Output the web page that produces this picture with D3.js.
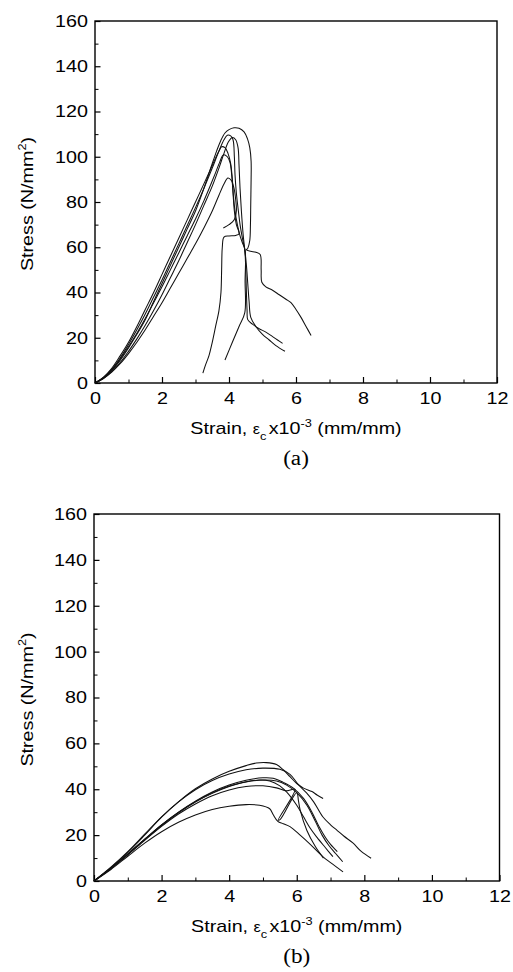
<!DOCTYPE html>
<html>
<head>
<meta charset="utf-8">
<script src="https://cdn.jsdelivr.net/npm/d3@7"></script>
<style>
  body { margin: 0; background: #fff; }
  text { font-family: "Liberation Sans", Arial, sans-serif; fill: #000; }
</style>
</head>
<body>
<script>
// stress-strain curves, strain x10^-3 vs stress N/mm2
var xTicks = [0, 2, 4, 6, 8, 10, 12];
var yTicks = [0, 20, 40, 60, 80, 100, 120, 140, 160];

// panel (a)
var a1 = [[0,0],[0.25,2.2],[0.5,5.5],[0.75,10],[1.0,15.5],[1.25,21.5],[1.5,28],[1.75,36],[2.0,44],[2.25,52],[2.5,60],[2.75,68],[3.0,76],[3.25,86],[3.5,97],[3.63,102.5],[3.75,107],[3.88,110.5],[4.0,112],[4.15,112.8],[4.3,112.6],[4.45,111],[4.55,108],[4.62,104],[4.66,98],[4.66,90],[4.65,80],[4.64,70],[4.62,63],[4.56,59.5],[4.52,58.8],[4.65,58.2],[4.8,57.8],[4.93,56.8],[4.96,50],[4.98,44.5],[5.1,42.5],[5.3,41],[5.5,39],[5.7,37],[5.85,35.5],[6.0,32.5],[6.15,29],[6.3,25],[6.45,21]];
var a2 = [[0,0],[0.25,2.5],[0.5,6],[0.75,11],[1.0,17],[1.25,23.5],[1.5,30.5],[1.75,38],[2.0,45.5],[2.25,53.5],[2.5,61.5],[2.75,69.5],[3.0,77.5],[3.25,86],[3.5,95],[3.7,102.5],[3.85,107.5],[3.95,109.5],[4.05,109.2],[4.12,107.5],[4.16,100],[4.18,92],[4.22,84],[4.28,76],[4.33,70],[4.4,64],[4.47,58.8],[4.5,50],[4.52,40],[4.54,32],[4.56,28],[4.7,26],[4.9,24],[5.1,22.5],[5.3,20.5],[5.45,19],[5.6,17.5]];
var a3 = [[0,0],[0.25,2],[0.5,5],[0.75,9],[1.0,14],[1.25,19.5],[1.5,25.5],[1.75,32],[2.0,39],[2.25,46.5],[2.5,54],[2.75,62],[3.0,70],[3.25,78.5],[3.5,87],[3.7,95],[3.85,101.5],[3.98,106.5],[4.1,108.5],[4.2,107.5],[4.27,104],[4.3,96],[4.33,86],[4.37,76],[4.42,66],[4.47,59],[4.52,52],[4.56,44],[4.6,36],[4.65,29],[4.8,25],[5.0,21.5],[5.2,19],[5.4,16.5],[5.67,14]];
var a4 = [[0,0],[0.25,2.5],[0.5,6.5],[0.75,12],[1.0,18],[1.25,25],[1.5,32.5],[1.75,40],[2.0,48],[2.25,56],[2.5,64],[2.75,72],[3.0,80],[3.25,88],[3.45,94.5],[3.6,99.5],[3.7,102.5],[3.78,104.4],[3.88,104],[3.97,101.5],[4.05,97],[4.1,90],[4.13,83],[4.18,76],[4.25,70],[4.33,65],[4.4,62],[4.48,58.8],[4.48,45],[4.47,31],[4.3,25],[4.1,18],[3.88,10.2]];
var a5 = [[0,0],[0.25,2.2],[0.5,5.8],[0.75,10.5],[1.0,16],[1.25,22],[1.5,28.5],[1.75,35.5],[2.0,42.5],[2.25,50],[2.5,57.5],[2.75,65],[3.0,72.5],[3.25,80.5],[3.45,87.5],[3.6,93],[3.72,97.5],[3.83,100.8],[3.95,100],[4.03,97.5],[4.08,92],[4.12,84],[4.16,76],[4.22,70],[4.3,66],[4.2,65.2],[4.0,65],[3.85,64.5],[3.8,60],[3.78,50],[3.76,40],[3.7,32],[3.6,25],[3.5,18],[3.4,12],[3.3,8],[3.22,4.4]];
var a6 = [[0,0],[0.25,2],[0.5,4.8],[0.75,8.5],[1.0,13],[1.25,18],[1.5,23.5],[1.75,29.5],[2.0,35.5],[2.25,42],[2.5,48.5],[2.75,55],[3.0,61.5],[3.25,68.5],[3.5,76],[3.7,83],[3.85,88],[3.97,90.6],[4.07,89.5],[4.15,86],[4.2,81],[4.22,76],[4.15,72],[4.0,70],[3.83,68.5]];

// panel (b)
var b1 = [[0,0],[0.5,5.8],[1.0,12.5],[1.5,20],[2.0,27.8],[2.5,34.5],[3.0,40.2],[3.5,44.5],[4.0,47.8],[4.5,50.3],[4.8,51.4],[5.1,51.6],[5.4,50.8],[5.6,48.5],[5.8,45.5],[6.0,42.5],[6.2,40.5],[6.45,39],[6.6,37.5],[6.78,36]];
var b2 = [[0,0],[0.5,6],[1.0,12.8],[1.5,20.4],[2.0,28],[2.5,34.5],[3.0,39.8],[3.5,43.8],[4.0,46.6],[4.5,48.5],[5.0,49.2],[5.5,48.7],[5.8,46.5],[6.05,42],[6.29,38.4],[6.5,34.5],[6.77,28],[7.0,24.5],[7.2,22],[7.4,19.5],[7.66,16.6],[7.9,13],[8.2,9.9]];
var b3 = [[0,0],[0.5,5.5],[1.0,11.8],[1.5,18.3],[2.0,24.5],[2.5,30],[3.0,34.8],[3.5,38.8],[4.0,41.8],[4.5,43.9],[5.0,45],[5.3,44.8],[5.6,43],[5.9,40.5],[6.2,36],[6.45,30],[6.65,24],[6.85,19],[7.0,16],[7.2,12.8]];
var b4 = [[0,0],[0.5,5.5],[1.0,11.6],[1.5,18],[2.0,24.2],[2.5,29.7],[3.0,34.4],[3.5,38.2],[4.0,41.2],[4.5,43.3],[4.9,44],[5.2,43.6],[5.5,41.5],[5.75,38],[6.0,33],[6.2,28],[6.4,23],[6.6,19],[6.85,14.5],[7.07,10.6]];
var b5 = [[0,0],[0.5,5.4],[1.0,11.4],[1.5,17.7],[2.0,23.8],[2.5,29.2],[3.0,33.6],[3.5,37.2],[4.0,39.7],[4.5,41.2],[5.0,41.5],[5.4,40.6],[5.7,39.3],[5.95,40],[5.45,26.5],[5.52,27],[6.0,38.5],[6.05,35],[6.1,31],[6.3,22],[6.55,15],[6.79,10]];
var b6 = [[0,0],[0.5,5],[1.0,10.8],[1.5,16.5],[2.0,21.5],[2.5,25.6],[3.0,28.8],[3.5,31.2],[4.0,32.6],[4.5,33.3],[4.9,33],[5.2,31.5],[5.3,29],[5.44,26],[5.6,25],[5.8,23.7],[6.1,20],[6.4,16],[6.77,10.6],[7.0,8],[7.37,4]];
var b7 = [[0,0],[0.5,5.5],[1.0,11.7],[1.5,18.1],[2.0,24.4],[2.5,29.9],[3.0,34.6],[3.5,38.5],[4.0,41.4],[4.5,43.2],[5.0,44],[5.4,43.6],[5.7,41.8],[6.0,38.5],[6.3,33],[6.55,26],[6.75,20],[6.95,15.5],[7.15,12],[7.36,8.4]];

var panels = [
  { curves: [a1, a2, a3, a4, a5, a6], caption: "(a)", left: 95, right: 497, top: 21, bottom: 383 },
  { curves: [b1, b2, b3, b4, b5, b6, b7], caption: "(b)", left: 94, right: 499.5, top: 514, bottom: 881 }
];

// the scanned lettering is a little wider than plain Arial
var widen = 1.16;

var svg = d3.select("body").append("svg")
    .attr("width", 513)
    .attr("height", 972);

function stretch(sel) {
  sel.each(function() {
    var w = this.getComputedTextLength();
    d3.select(this).attr("textLength", w * widen).attr("lengthAdjust", "spacingAndGlyphs");
  });
}

function drawPanel(p) {
  var x = d3.scaleLinear().domain([0, 12]).range([p.left, p.right]);
  var y = d3.scaleLinear().domain([0, 160]).range([p.bottom, p.top]);
  var g = svg.append("g");

  // frame
  g.append("rect")
      .attr("x", p.left).attr("y", p.top)
      .attr("width", p.right - p.left).attr("height", p.bottom - p.top)
      .attr("fill", "none").attr("stroke", "#000").attr("stroke-width", 1.4);

  // minor ticks, inward
  g.append("g")
      .attr("transform", "translate(0," + p.bottom + ")")
      .call(d3.axisBottom(x).tickValues(d3.range(1, 12, 2)).tickSize(-3.5).tickFormat(""))
      .call(function(s) { s.select(".domain").remove(); });
  g.append("g")
      .attr("transform", "translate(" + p.left + ",0)")
      .call(d3.axisLeft(y).tickValues(d3.range(10, 160, 20)).tickSize(-3.5).tickFormat(""))
      .call(function(s) { s.select(".domain").remove(); });

  // major ticks and labels
  var xa = g.append("g")
      .attr("transform", "translate(0," + p.bottom + ")")
      .call(d3.axisBottom(x).tickValues(xTicks).tickSize(-6).tickPadding(9));
  var ya = g.append("g")
      .attr("transform", "translate(" + p.left + ",0)")
      .call(d3.axisLeft(y).tickValues(yTicks).tickSize(-5.5).tickPadding(7));
  [xa, ya].forEach(function(a) {
    a.select(".domain").remove();
    a.selectAll("line").attr("stroke-width", 1.2);
    a.selectAll("text").attr("font-size", 17).style("font-family", "Liberation Sans, Arial, sans-serif");
    stretch(a.selectAll("text"));
  });
  xa.selectAll("text").attr("dy", "0.72em");

  // curves
  var line = d3.line()
      .x(function(d) { return x(d[0]); })
      .y(function(d) { return y(d[1]); })
      .curve(d3.curveCatmullRom.alpha(0.5));
  g.selectAll("path.curve")
      .data(p.curves)
    .enter().append("path")
      .attr("class", "curve")
      .attr("d", line)
      .attr("fill", "none")
      .attr("stroke", "#111")
      .attr("stroke-width", 1.05);

  // axis titles
  var cx = (p.left + p.right) / 2;
  var xt = g.append("text")
      .attr("transform", "translate(" + cx + "," + (p.bottom + 51) + ") scale(" + widen + ",1)")
      .attr("text-anchor", "middle")
      .attr("font-size", 17);
  xt.append("tspan").text("Strain, ");
  xt.append("tspan").attr("font-size", 14).text("\u03b5");
  xt.append("tspan").attr("font-size", 11).attr("dy", 6).text("c");
  xt.append("tspan").attr("dy", -6).attr("dx", 2).text("x10");
  xt.append("tspan").attr("font-size", 11).attr("dy", -7).text("-3");
  xt.append("tspan").attr("dy", 7).text(" (mm/mm)");

  var cy = (p.top + p.bottom) / 2;
  var yt = g.append("text")
      .attr("transform", "translate(33," + (cy + 2) + ") rotate(-90) scale(" + widen + ",1)")
      .attr("text-anchor", "middle")
      .attr("font-size", 17);
  yt.append("tspan").text("Stress (N/mm");
  yt.append("tspan").attr("font-size", 11).attr("dy", -7).text("2");
  yt.append("tspan").attr("dy", 7).text(")");

  g.append("text")
      .attr("transform", "translate(" + cx + "," + (p.bottom + 82) + ") scale(" + widen + ",1)")
      .attr("text-anchor", "middle")
      .style("font-family", "Liberation Serif, Times New Roman, serif")
      .attr("font-size", 20)
      .text(p.caption);
}

panels.forEach(drawPanel);
</script>
</body>
</html>
